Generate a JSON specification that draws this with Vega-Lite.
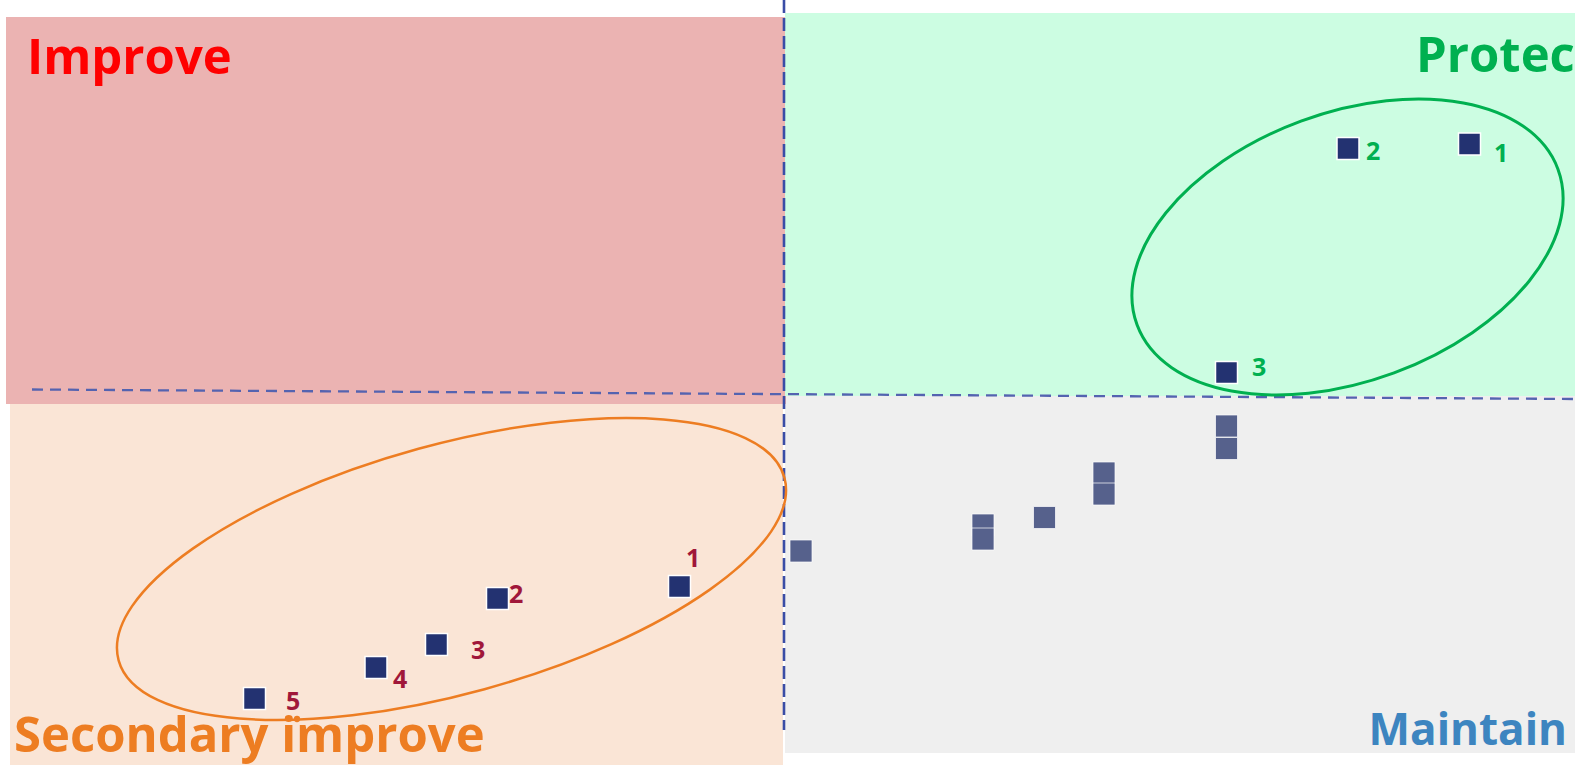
{
  "$schema": "https://vega.github.io/schema/vega-lite/v6.json",
  "width": 1575,
  "height": 768,
  "autosize": {"type": "none"},
  "padding": 0,
  "background": "#ffffff",
  "config": {"view": {"stroke": null}, "axis": {"disable": true}},
  "datasets": {
    "quads": [
      {"q": "Secondary improve", "x": 10, "x2": 783, "y": 401, "y2": 765},
      {"q": "Maintain", "x": 785, "x2": 1575, "y": 393, "y2": 753},
      {"q": "Improve", "x": 6, "x2": 786, "y": 17, "y2": 404},
      {"q": "Protect", "x": 785, "x2": 1575, "y": 13, "y2": 396}
    ],
    "lines": [
      {"kind": "v", "x": 784, "y": 0, "x2": 784, "y2": 730},
      {"kind": "h", "x": 32, "y": 389.5, "x2": 1575, "y2": 399}
    ],
    "ellipses": [
      {"name": "protect", "x": 1347.5, "y": 247},
      {"name": "secondary", "x": 451.5, "y": 569}
    ],
    "dots": [{"x": 297, "y": 719}],
    "points": [
      {"grp": "protect", "id": "1", "x": 1469.5, "y": 144, "lx": 1494, "ly": 162},
      {"grp": "protect", "id": "2", "x": 1348, "y": 148.5, "lx": 1366, "ly": 160},
      {"grp": "protect", "id": "3", "x": 1226.5, "y": 372.5, "lx": 1252, "ly": 376},
      {"grp": "secondary", "id": "1", "x": 679.5, "y": 586.5, "lx": 686, "ly": 567},
      {"grp": "secondary", "id": "2", "x": 497.5, "y": 598.5, "lx": 509, "ly": 603},
      {"grp": "secondary", "id": "3", "x": 436.5, "y": 644.5, "lx": 471, "ly": 659},
      {"grp": "secondary", "id": "4", "x": 376, "y": 667.5, "lx": 393, "ly": 688},
      {"grp": "secondary", "id": "5", "x": 254.5, "y": 698.5, "lx": 286, "ly": 710},
      {"grp": "maintain", "id": "", "x": 801, "y": 551},
      {"grp": "maintain", "id": "", "x": 983, "y": 525},
      {"grp": "maintain", "id": "", "x": 983, "y": 539},
      {"grp": "maintain", "id": "", "x": 1044.5, "y": 517.5},
      {"grp": "maintain", "id": "", "x": 1104, "y": 473},
      {"grp": "maintain", "id": "", "x": 1104, "y": 494},
      {"grp": "maintain", "id": "", "x": 1226.5, "y": 426},
      {"grp": "maintain", "id": "", "x": 1226.5, "y": 448.5}
    ],
    "titles": [
      {"q": "Improve", "x": 27, "y": 74},
      {"q": "Protect", "x": 1416, "y": 72},
      {"q": "Secondary improve", "x": 14, "y": 752},
      {"q": "Maintain", "x": 1567, "y": 745}
    ]
  },
  "layer": [
    {
      "data": {"name": "quads"},
      "mark": {"type": "rect"},
      "encoding": {
        "x": {"field": "x", "type": "quantitative", "scale": {"domain": [0, 1575], "nice": false, "zero": false}},
        "x2": {"field": "x2"},
        "y": {"field": "y", "type": "quantitative", "scale": {"domain": [0, 768], "reverse": true, "nice": false, "zero": false}},
        "y2": {"field": "y2"},
        "fill": {"field": "q", "type": "nominal", "legend": null, "sort": null,
          "scale": {"domain": ["Improve", "Protect", "Secondary improve", "Maintain"], "range": ["#EBB3B2", "#CCFDE2", "#FAE5D6", "#EFEFEF"]}}
      }
    },
    {
      "data": {"name": "lines"},
      "transform": [{"filter": "datum.kind === 'h'"}],
      "mark": {"type": "rule", "color": "#5463B0", "strokeWidth": 2.3, "strokeDash": [11, 7]},
      "encoding": {
        "x": {"field": "x", "type": "quantitative", "scale": {"domain": [0, 1575], "nice": false, "zero": false}},
        "x2": {"field": "x2"},
        "y": {"field": "y", "type": "quantitative", "scale": {"domain": [0, 768], "reverse": true, "nice": false, "zero": false}},
        "y2": {"field": "y2"}
      }
    },
    {
      "data": {"name": "lines"},
      "transform": [{"filter": "datum.kind === 'v'"}],
      "mark": {"type": "rule", "color": "#3A4DA6", "strokeWidth": 2.6, "strokeDash": [13, 5]},
      "encoding": {
        "x": {"field": "x", "type": "quantitative", "scale": {"domain": [0, 1575], "nice": false, "zero": false}},
        "x2": {"field": "x2"},
        "y": {"field": "y", "type": "quantitative", "scale": {"domain": [0, 768], "reverse": true, "nice": false, "zero": false}},
        "y2": {"field": "y2"}
      }
    },
    {
      "data": {"name": "ellipses"},
      "transform": [{"filter": "datum.name === 'protect'"}],
      "mark": {"type": "point", "filled": false, "stroke": "#00B050", "strokeWidth": 3,
        "shape": "M -1 0 A 1 0.598 0 1 0 1 0 A 1 0.598 0 1 0 -1 0 Z", "size": 201421, "angle": -20.3, "opacity": 1},
      "encoding": {
        "x": {"field": "x", "type": "quantitative", "scale": {"domain": [0, 1575], "nice": false, "zero": false}},
        "y": {"field": "y", "type": "quantitative", "scale": {"domain": [0, 768], "reverse": true, "nice": false, "zero": false}}
      }
    },
    {
      "data": {"name": "ellipses"},
      "transform": [{"filter": "datum.name === 'secondary'"}],
      "mark": {"type": "point", "filled": false, "stroke": "#ED7D22", "strokeWidth": 2.5,
        "shape": "M -1 0 A 1 0.361 0 1 0 1 0 A 1 0.361 0 1 0 -1 0 Z", "size": 476652, "angle": -15.35, "opacity": 1},
      "encoding": {
        "x": {"field": "x", "type": "quantitative", "scale": {"domain": [0, 1575], "nice": false, "zero": false}},
        "y": {"field": "y", "type": "quantitative", "scale": {"domain": [0, 768], "reverse": true, "nice": false, "zero": false}}
      }
    },
    {
      "data": {"name": "dots"},
      "mark": {"type": "circle", "color": "#ED7D22", "size": 40, "opacity": 1},
      "encoding": {
        "x": {"field": "x", "type": "quantitative", "scale": {"domain": [0, 1575], "nice": false, "zero": false}},
        "y": {"field": "y", "type": "quantitative", "scale": {"domain": [0, 768], "reverse": true, "nice": false, "zero": false}}
      }
    },
    {
      "data": {"name": "points"},
      "transform": [{"filter": "datum.grp === 'maintain'"}],
      "mark": {"type": "square", "fill": "#56618C", "stroke": "#ffffff", "strokeOpacity": 0.7, "strokeWidth": 1, "size": 484, "opacity": 1},
      "encoding": {
        "x": {"field": "x", "type": "quantitative", "scale": {"domain": [0, 1575], "nice": false, "zero": false}},
        "y": {"field": "y", "type": "quantitative", "scale": {"domain": [0, 768], "reverse": true, "nice": false, "zero": false}}
      }
    },
    {
      "data": {"name": "points"},
      "transform": [{"filter": "datum.grp !== 'maintain'"}],
      "mark": {"type": "square", "fill": "#233271", "stroke": "#ffffff", "strokeWidth": 1.5, "size": 484, "opacity": 1},
      "encoding": {
        "x": {"field": "x", "type": "quantitative", "scale": {"domain": [0, 1575], "nice": false, "zero": false}},
        "y": {"field": "y", "type": "quantitative", "scale": {"domain": [0, 768], "reverse": true, "nice": false, "zero": false}}
      }
    },
    {
      "data": {"name": "points"},
      "transform": [{"filter": "datum.grp === 'protect'"}],
      "mark": {"type": "text", "color": "#00B050", "font": "Open Sans", "fontWeight": "bold", "fontSize": 25, "align": "left", "baseline": "alphabetic"},
      "encoding": {
        "x": {"field": "lx", "type": "quantitative", "scale": {"domain": [0, 1575], "nice": false, "zero": false}},
        "y": {"field": "ly", "type": "quantitative", "scale": {"domain": [0, 768], "reverse": true, "nice": false, "zero": false}},
        "text": {"field": "id"}
      }
    },
    {
      "data": {"name": "points"},
      "transform": [{"filter": "datum.grp === 'secondary'"}],
      "mark": {"type": "text", "color": "#A0173A", "font": "Open Sans", "fontWeight": "bold", "fontSize": 25, "align": "left", "baseline": "alphabetic"},
      "encoding": {
        "x": {"field": "lx", "type": "quantitative", "scale": {"domain": [0, 1575], "nice": false, "zero": false}},
        "y": {"field": "ly", "type": "quantitative", "scale": {"domain": [0, 768], "reverse": true, "nice": false, "zero": false}},
        "text": {"field": "id"}
      }
    },
    {
      "data": {"name": "titles"},
      "transform": [{"filter": "datum.q !== 'Maintain'"}],
      "mark": {"type": "text", "font": "Open Sans", "fontWeight": "bold", "fontSize": 49, "align": "left", "baseline": "alphabetic", "clip": true},
      "encoding": {
        "x": {"field": "x", "type": "quantitative", "scale": {"domain": [0, 1575], "nice": false, "zero": false}},
        "y": {"field": "y", "type": "quantitative", "scale": {"domain": [0, 768], "reverse": true, "nice": false, "zero": false}},
        "text": {"field": "q"},
        "color": {"field": "q", "type": "nominal", "legend": null, "sort": null,
          "scale": {"domain": ["Improve", "Protect", "Secondary improve", "Maintain"], "range": ["#FF0000", "#00B050", "#ED7D22", "#3D85C0"]}}
      }
    },
    {
      "data": {"name": "titles"},
      "transform": [{"filter": "datum.q === 'Maintain'"}],
      "mark": {"type": "text", "font": "Open Sans", "fontWeight": "bold", "fontSize": 44, "align": "right", "baseline": "alphabetic", "color": "#3D85C0"},
      "encoding": {
        "x": {"field": "x", "type": "quantitative", "scale": {"domain": [0, 1575], "nice": false, "zero": false}},
        "y": {"field": "y", "type": "quantitative", "scale": {"domain": [0, 768], "reverse": true, "nice": false, "zero": false}},
        "text": {"field": "q"}
      }
    }
  ]
}
